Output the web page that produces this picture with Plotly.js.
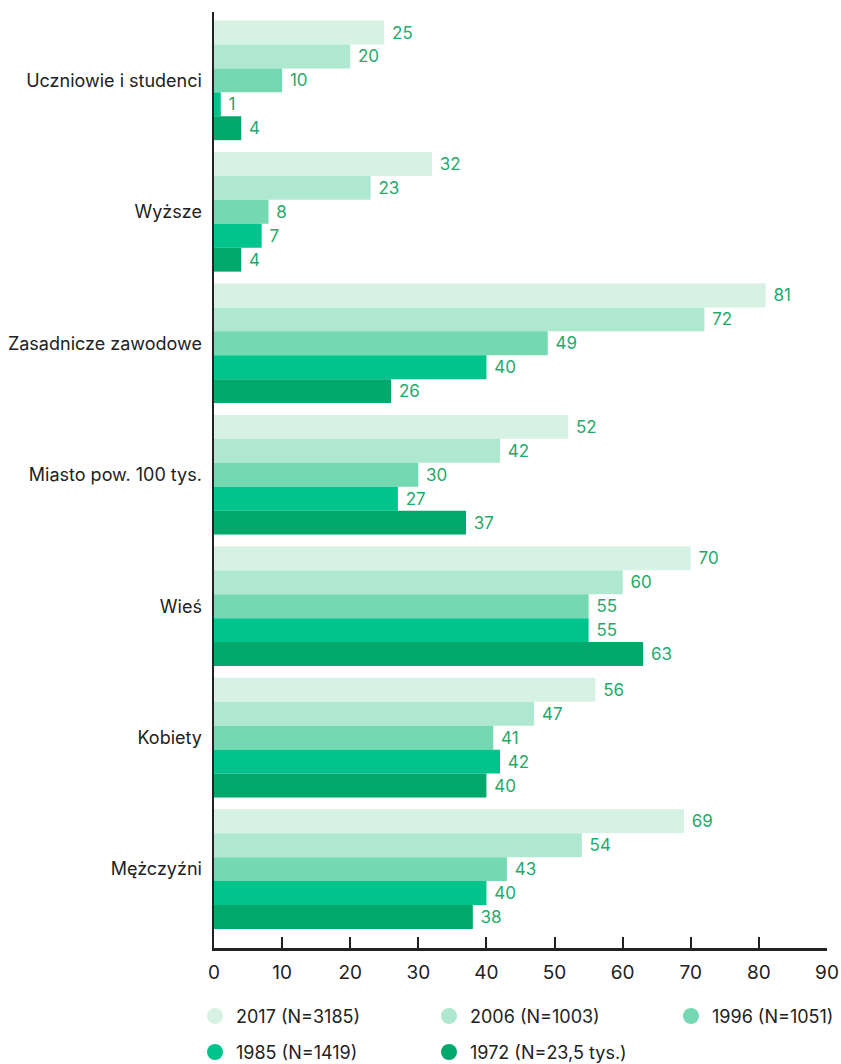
<!DOCTYPE html>
<html><head><meta charset="utf-8">
<script src="https://cdn.plot.ly/plotly-3.0.1.min.js"></script>
<style>body{margin:0;background:#fff}#c{width:841px;height:1064px}</style>
</head><body><div id="c"></div>
<script>
const categories = ["Uczniowie i studenci","Wyższe","Zasadnicze zawodowe","Miasto pow. 100 tys.","Wieś","Kobiety","Mężczyźni"];
const seriesNames = ["2017 (N=3185)","2006 (N=1003)","1996 (N=1051)","1985 (N=1419)","1972 (N=23,5 tys.)"];
const v2017 = [25,32,81,52,70,56,69];
const v2006 = [20,23,72,42,60,47,54];
const v1996 = [10,8,49,30,55,41,43];
const v1985 = [1,7,40,27,55,42,40];
const v1972 = [4,4,26,37,63,40,38];
const xTicks = [0,10,20,30,40,50,60,70,80,90];
const colors = ["#d6f2e5","#afe8d0","#74d9b2","#00c48c","#00a96b"];
const values = [v2017,v2006,v1996,v1985,v1972];
const FONT = "Inter, 'Open Sans', sans-serif";

const W = 841, H = 1064, ML = 214, MR = 14, MT = 12, MB = 116;
const PW = W - ML - MR, PH = H - MT - MB;
const px2x = p => (p - ML) / PW;
const py2y = p => (H - MB - p) / PH;

const traces = values.map((v,i)=>({type:'bar',orientation:'h',y:categories,x:v,name:seriesNames[i],
  marker:{color:colors[i]},texttemplate:' %{x}',textposition:'outside',
  textfont:{color:'#1faa6c',size:17,family:FONT},cliponaxis:false,showlegend:false,hoverinfo:'skip'}));

// legend placement (pixel positions of the reference legend grid)
const legCols = [215, 449, 691];
const legRows = [1016, 1052];
const shapes = [], annotations = [];
seriesNames.forEach((n,i)=>{
  const cx = legCols[i % 3], cy = legRows[Math.floor(i / 3)];
  shapes.push({type:'circle',xref:'paper',yref:'paper',xsizemode:'pixel',ysizemode:'pixel',
    xanchor:px2x(cx),yanchor:py2y(cy),x0:-8,x1:8,y0:-8,y1:8,fillcolor:colors[i],line:{width:0}});
  annotations.push({xref:'paper',yref:'paper',x:px2x(cx + 19),y:py2y(cy),xanchor:'left',yanchor:'middle',
    text:n,showarrow:false,font:{size:18,color:'#222',family:FONT}});
});

const layout = {
  width:W,height:H,
  margin:{l:ML,r:MR,t:MT,b:MB},
  paper_bgcolor:'#fff',plot_bgcolor:'#fff',
  font:{family:FONT,color:'#222',size:18},
  barmode:'group',bargap:0.09,bargroupgap:0,
  xaxis:{range:[0,90],tickvals:xTicks,ticktext:xTicks.map(String),showgrid:false,zeroline:false,automargin:false,
    showline:true,linecolor:'#222',linewidth:2.5,ticks:'inside',ticklen:11,tickwidth:2,tickcolor:'#222',
    tickfont:{size:19,color:'#222'},ticklabelstandoff:6},
  yaxis:{type:'category',categoryorder:'array',categoryarray:categories,range:[6.6,-0.52],showgrid:false,zeroline:false,automargin:false,
    showline:true,linecolor:'#222',linewidth:2.5,ticks:'',ticklabelstandoff:6,tickfont:{size:18,color:'#222'}},
  shapes:shapes, annotations:annotations,
  showlegend:false
};
Plotly.newPlot('c',traces,layout,{displayModeBar:false,staticPlot:true});
</script></body></html>
